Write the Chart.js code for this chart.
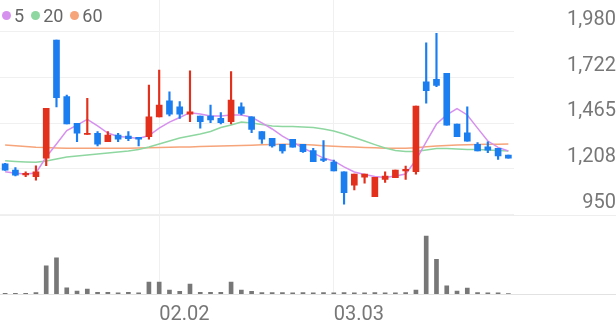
<!DOCTYPE html>
<html>
<head>
<meta charset="utf-8">
<script src="https://cdn.jsdelivr.net/npm/chart.js@4.4.1/dist/chart.umd.min.js"></script>
<style>
  html, body { margin: 0; padding: 0; background: #fff; }
  #wrap { position: relative; width: 616px; height: 321px; }
  #legend { position: absolute; left: 2px; top: 5px; display: flex; align-items: center; font: 18px Roboto, sans-serif; line-height: 21px; color: #666; }
  .item { display: flex; align-items: center; margin-right: 7px; }
  .dot { width: 9px; height: 9px; border-radius: 50%; margin-right: 3px; }
</style>
</head>
<body>
<div id="wrap">
  <canvas id="chart" width="616" height="321"></canvas>
  <div id="legend"></div>
</div>
<script>
// trading days (MM.DD)
const dates = ['01.12','01.13','01.14','01.15','01.16','01.19','01.20','01.21','01.22','01.23',
  '01.26','01.27','01.28','01.29','01.30','02.02','02.03','02.04','02.05','02.06',
  '02.09','02.10','02.11','02.12','02.13','02.19','02.20','02.23','02.24','02.25',
  '02.26','02.27','03.03','03.04','03.05','03.06','03.09','03.10','03.11','03.12',
  '03.13','03.16','03.17','03.18','03.19','03.20','03.23','03.24','03.25','03.26'];
const tickDates = ['02.02', '03.03'];
const priceTicks = [950, 1208, 1465, 1722, 1980];

const opens = [1235,1200,1173,1163,1267,1933,1614,1464,1402,1408,1360,1398,1392,1385,1388,1500,1591,1557,1516,1505,
  1505,1492,1473,1557,1501,1417,1379,1345,1374,1346,1310,1264,1246,1191,1116,1160,1050,1148,1157,1195,
  1191,1698,1712,1746,1460,1411,1346,1332,1323,1285];
const highs = [1238,1214,1191,1225,1548,1933,1623,1464,1605,1417,1417,1408,1417,1385,1680,1764,1642,1586,1760,1505,
  1567,1524,1755,1580,1501,1417,1379,1345,1374,1346,1323,1366,1257,1191,1178,1178,1160,1191,1201,1223,
  1561,1918,1971,1746,1460,1557,1355,1360,1323,1285];
const lows = [1198,1167,1163,1144,1225,1557,1460,1360,1402,1336,1360,1360,1366,1336,1374,1500,1505,1492,1473,1436,
  1467,1460,1460,1511,1411,1351,1330,1295,1329,1300,1248,1248,1195,1008,1088,1126,1050,1131,1157,1148,
  1178,1577,1670,1454,1388,1364,1308,1298,1261,1267];
const closes = [1200,1171,1182,1191,1548,1608,1460,1408,1408,1347,1398,1374,1377,1374,1501,1567,1516,1516,1529,1473,
  1483,1467,1595,1520,1430,1375,1336,1308,1329,1304,1248,1255,1195,1073,1178,1178,1160,1167,1201,1205,
  1561,1648,1678,1454,1388,1364,1308,1313,1280,1267];
// volume, thousand shares
const volumes = [8,8,8,15,283,363,63,30,50,18,18,12,18,12,120,120,40,28,100,18,
  18,18,120,40,28,15,15,15,12,15,12,15,12,15,12,12,15,12,12,15,
  40,583,350,83,30,60,15,12,12,5];

const ma5 = [1191,1182,1178,1184,1274,1347,1423,1454,1486,1449,1409,1390,1385,1378,1395,1437,1471,1497,1524,1516,
  1505,1505,1511,1511,1498,1466,1432,1392,1359,1325,1297,1268,1252,1218,1190,1175,1164,1159,1167,1178,
  1257,1359,1460,1511,1547,1511,1437,1364,1328,1308];
const ma20 = [1253,1249,1246,1244,1252,1263,1274,1280,1285,1291,1297,1302,1308,1316,1330,1347,1364,1381,1392,1404,
  1418,1440,1454,1471,1466,1457,1449,1446,1446,1443,1440,1432,1421,1404,1384,1364,1344,1325,1311,1305,
  1305,1314,1322,1322,1319,1317,1316,1314,1311,1308];
const ma60 = [1342,1337,1333,1329,1327,1325,1324,1324,1323,1323,1323,1323,1324,1325,1326,1327,1329,1330,1331,1333,
  1334,1336,1338,1339,1341,1343,1344,1346,1346,1344,1342,1338,1335,1332,1330,1328,1326,1324,1323,1323,
  1326,1332,1336,1339,1342,1343,1344,1346,1346,1347];

const UP = '#e2301c';
const DOWN = '#1a7ef0';
const GRID = '#f0f0f0';
const TEXT = '#777';
const axisFont = { family: 'Roboto', size: 20 };

const maLines = [
  { label: '5', data: ma5, color: '#d690ee' },
  { label: '20', data: ma20, color: '#8ed7a0' },
  { label: '60', data: ma60, color: '#f6a47a' },
];

// html legend, top left
document.getElementById('legend').innerHTML = maLines
  .map((m) => `<span class="item"><span class="dot" style="background:${m.color}"></span>${m.label}</span>`)
  .join('');

const candleColor = (ctx) => (closes[ctx.dataIndex] >= opens[ctx.dataIndex] ? UP : DOWN);

// no extra room for half-labels at the axis ends
const noPadding = (s) => {
  s.paddingTop = 0;
  s.paddingBottom = 0;
  s.paddingLeft = 0;
  s.paddingRight = 0;
};

// separator + volume baseline run across the whole width
const paneLines = {
  id: 'paneLines',
  beforeDatasetsDraw(chart) {
    const { ctx, scales } = chart;
    const lines = [
      [scales.y.getPixelForValue(scales.y.min), '#eeeeee'],
      [scales.yVol.getPixelForValue(0), '#e2e2e2'],
    ];
    ctx.save();
    ctx.lineWidth = 1;
    lines.forEach(([py, color]) => {
      const yy = Math.round(py) + 0.5;
      ctx.strokeStyle = color;
      ctx.beginPath();
      ctx.moveTo(0, yy);
      ctx.lineTo(chart.width, yy);
      ctx.stroke();
    });
    ctx.restore();
  },
};

new Chart(document.getElementById('chart'), {
  type: 'bar',
  data: {
    labels: dates,
    datasets: [
      {
        label: 'body',
        data: opens.map((o, i) => [o, closes[i]]),
        backgroundColor: candleColor,
        barThickness: 6,
        minBarLength: 1,
        grouped: false,
        order: 1,
        yAxisID: 'y',
      },
      {
        label: 'wick',
        data: lows.map((l, i) => [l, highs[i]]),
        backgroundColor: candleColor,
        barThickness: 1.5,
        grouped: false,
        order: 2,
        yAxisID: 'y',
      },
      ...maLines.map((m) => ({
        type: 'line',
        label: m.label,
        data: m.data,
        borderColor: m.color,
        borderWidth: 1.5,
        pointRadius: 0,
        tension: 0,
        order: 3,
        yAxisID: 'y',
      })),
      {
        label: 'volume',
        data: volumes,
        backgroundColor: '#777',
        barThickness: 4,
        grouped: false,
        order: 1,
        yAxisID: 'yVol',
      },
    ],
  },
  options: {
    responsive: false,
    animation: false,
    layout: { padding: 0 },
    plugins: { legend: { display: false }, tooltip: { enabled: false } },
    scales: {
      x: {
        offset: true,
        afterBuildTicks: (s) => {
          s.ticks = s.ticks.filter((t) => tickDates.includes(dates[t.value]));
        },
        afterFit: (s) => { s.height = 27; noPadding(s); },
        grid: { offset: false, drawTicks: false, color: GRID },
        border: { display: false },
        ticks: { autoSkip: false, maxRotation: 0, align: 'start', padding: 9, color: TEXT, font: axisFont },
      },
      y: {
        position: 'right',
        stack: 'pane',
        stackWeight: 214.5,
        min: 950,
        max: 2159,
        afterBuildTicks: (s) => { s.ticks = priceTicks.map((v) => ({ value: v })); },
        afterFit: (s) => { s.width = 102.5; noPadding(s); },
        grid: { drawTicks: false, color: GRID },
        border: { display: false },
        ticks: {
          autoSkip: false,
          crossAlign: 'far',
          padding: 46,
          labelOffset: -12,
          color: TEXT,
          font: axisFont,
          callback: (v) => v.toLocaleString('en-US'),
        },
      },
      yVol: {
        position: 'right',
        stack: 'pane',
        stackWeight: 79.5,
        min: 0,
        max: 800,
        display: false,
        afterFit: noPadding,
      },
    },
  },
  plugins: [paneLines],
});
</script>
</body>
</html>
